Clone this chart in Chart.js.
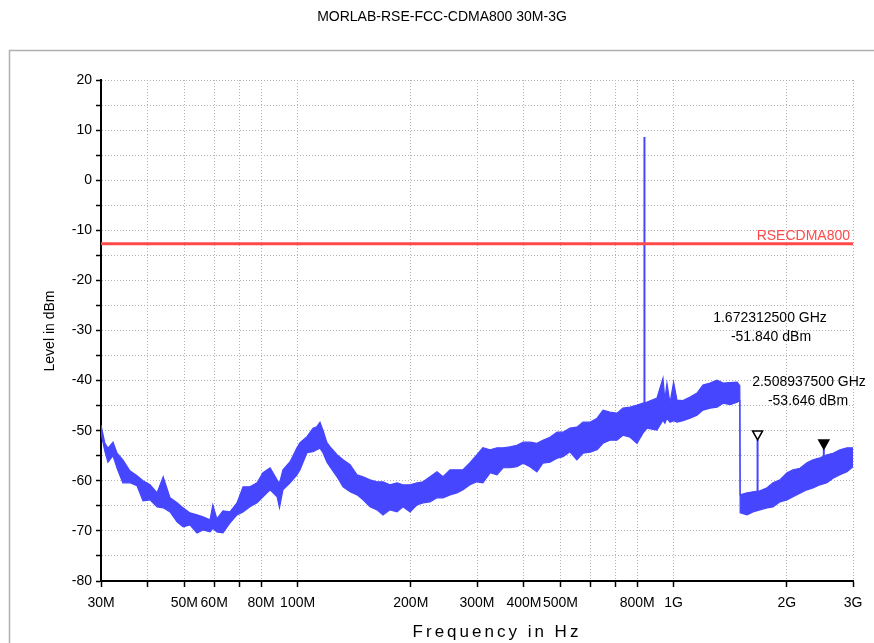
<!DOCTYPE html>
<html>
<head>
<meta charset="utf-8">
<script src="https://cdn.jsdelivr.net/npm/chart.js@4.4.0/dist/chart.umd.min.js"></script>
<style>
  body { margin: 0; background: #fff; }
</style>
</head>
<body>
<canvas id="spectrum" width="874" height="643"></canvas>
<script>
// frequencies in MHz, levels in dBm
var freqMHz = [30.0, 30.7, 31.3, 32.3, 33.1, 34.3, 35.8, 37.4, 38.8, 40.5, 42.3, 43.9, 45.8, 47.8, 49.6,
  51.7, 54.0, 56.0, 58.5, 59.5, 61.0, 63.3, 66.1, 69.0, 71.6, 74.7, 78.0, 80.9, 84.5, 88.2, 89.5,
  91.4, 95.5, 99.6, 101.5, 105.9, 109.9, 112.5, 114.7, 116.8, 119.7, 121.9, 127.3, 132.1, 137.9,
  143.9, 149.3, 155.8, 162.6, 168.7, 176.1, 183.8, 190.7, 199.1, 207.8, 215.6, 225.0, 234.8, 243.6,
  254.3, 265.4, 275.4, 287.4, 300, 311, 325, 339, 352, 367, 383, 398, 415, 433, 449, 469, 490, 508,
  530, 553, 574, 599, 626, 649, 677, 707, 733, 766, 799, 829, 850, 903, 937, 948, 960, 978, 1000,
  1021, 1059, 1106, 1154, 1197, 1250, 1305, 1354, 1413, 1475, 1500, 1503, 1568, 1626, 1697, 1772,
  1838, 1919, 2003, 2078, 2168, 2263, 2348, 2451, 2558, 2654, 2770, 2892, 3000];

var peakLevel = [-48.9, -52.4, -53.5, -52.3, -54.5, -55.8, -58.0, -59.0, -60.0, -60.8, -62.4, -59.2, -63.4, -64.4, -65.4,
  -66.4, -66.8, -67.2, -67.8, -64.8, -67.6, -66.0, -66.2, -64.4, -61.2, -61.2, -60.4, -58.4, -57.4, -59.8, -60.5,
  -57.8, -56.2, -53.4, -52.4, -51.2, -49.5, -49.2, -48.3, -49.9, -52.4, -53.2, -54.8, -55.8, -56.8,
  -58.8, -59.2, -59.8, -60.2, -60.2, -60.8, -60.4, -60.8, -60.8, -60.4, -60.2, -59.2, -58.2, -59.2,
  -57.8, -57.8, -57.8, -56.4, -54.8, -53.4, -53.8, -53.4, -53.4, -53.2, -52.9, -52.3, -52.3, -52.5, -51.9, -51.3, -50.3, -50.3,
  -49.5, -49.3, -48.3, -48.3, -47.5, -45.9, -46.3, -46.5, -45.5, -45.3, -44.9, -44.5, -44.3, -43.5, -39.5, -43.9, -40.5, -44.5, -40.3,
  -43.9, -44.0, -43.3, -42.5, -40.9, -40.5, -39.9, -40.5, -40.4, -40.3, -41.0, -62.8, -62.4, -62.2, -62.0, -61.4,
  -60.4, -59.8, -58.4, -57.8, -57.5, -56.4, -55.8, -55.4, -54.8, -54.5, -53.8, -53.4, -53.4];

var floorLevel = [-50.5, -54.0, -56.3, -55.0, -57.5, -60.4, -60.4, -61.0, -64.0, -63.8, -65.2, -65.4, -66.2, -68.2, -69.2,
  -68.8, -70.4, -69.8, -70.2, -69.5, -70.2, -70.4, -68.4, -66.8, -66.2, -65.2, -64.4, -63.2, -61.8, -63.2, -65.4,
  -61.8, -60.4, -58.8, -57.8, -54.4, -54.2, -53.8, -53.5, -54.4, -56.3, -57.2, -59.2, -61.2, -62.2,
  -62.8, -63.8, -65.2, -65.8, -66.8, -65.8, -66.2, -65.2, -66.2, -64.8, -64.4, -64.2, -63.4, -63.4,
  -62.8, -62.4, -61.8, -60.8, -60.2, -60.4, -58.4, -58.8, -57.4, -57.4, -57.2, -56.5, -57.2, -58.2, -56.5, -56.3, -55.5, -55.2,
  -54.2, -55.8, -54.5, -54.3, -53.8, -52.5, -51.9, -51.9, -50.9, -51.3, -52.5, -50.5, -49.5, -49.9, -47.9, -48.5, -47.5, -48.3, -48.0,
  -48.3, -48.0, -47.5, -46.9, -45.9, -45.5, -45.3, -44.5, -44.8, -44.3, -44.0, -66.4, -66.8, -66.2, -65.8, -65.4,
  -65.2, -64.2, -63.8, -63.2, -62.5, -61.8, -61.4, -60.8, -60.4, -59.5, -58.8, -58.2, -57.2];

var carrierFreq = 836.5;
var carrierBase = -46;
var carrierLevel = 8.6;

var limitName = 'RSECDMA800';
var limitLevel = -12.7;

var markerFreq = [1672.3125, 2508.9375];
var markerBase = [-63.5, -57.5];
var markerLevel = [-51.84, -53.646];

var xTickValues = [30, 40, 50, 60, 70, 80, 100, 200, 300, 400, 500, 600, 700, 800, 1000, 2000, 3000];
var xTickLabels = ['30M', '', '50M', '60M', '', '80M', '100M', '200M', '300M', '400M', '500M', '', '', '800M', '1G', '2G', '3G'];

var traceColor = '#4646ff';
var limitColor = '#ff4a4a';
var fontFamily = '"Liberation Sans", Arial, sans-serif';

function points(xs, ys) {
  return xs.map(function(x, i) { return { x: x, y: ys[i] }; });
}

var decorations = {
  id: 'decorations',
  beforeDraw: function(chart) {
    var ctx = chart.ctx;
    ctx.save();
    ctx.fillStyle = '#fff';
    ctx.fillRect(0, 0, chart.width, chart.height);
    ctx.strokeStyle = '#b0b0b0';
    ctx.lineWidth = 1.5;
    ctx.strokeRect(9.5, 50.5, 900, 700);
    ctx.restore();
  },
  afterDatasetsDraw: function(chart) {
    var ctx = chart.ctx;
    var xs = chart.scales.x, ys = chart.scales.y;
    ctx.save();
    markerFreq.forEach(function(f, i) {
      var px = xs.getPixelForValue(f);
      var py = ys.getPixelForValue(markerLevel[i]);
      ctx.beginPath();
      ctx.moveTo(px, py);
      ctx.lineTo(px - 5, py - 9);
      ctx.lineTo(px + 5, py - 9);
      ctx.closePath();
      ctx.lineWidth = 1.5;
      ctx.strokeStyle = '#000';
      if (i === 0) {
        ctx.fillStyle = '#fff';
      } else {
        ctx.fillStyle = '#000';
      }
      ctx.fill();
      ctx.stroke();
    });
    ctx.restore();
  },
  afterDraw: function(chart) {
    var ctx = chart.ctx;
    ctx.save();
    ctx.fillStyle = '#000';
    ctx.textBaseline = 'middle';
    ctx.textAlign = 'center';

    ctx.font = '14px ' + fontFamily;
    ctx.fillText('MORLAB-RSE-FCC-CDMA800 30M-3G', 442, 17);

    // marker readouts
    ctx.fillText((markerFreq[0] / 1000).toFixed(9) + ' GHz', 770, 318);
    ctx.fillText(markerLevel[0].toFixed(3) + ' dBm', 771, 337);
    ctx.fillText((markerFreq[1] / 1000).toFixed(9) + ' GHz', 809, 382);
    ctx.fillText(markerLevel[1].toFixed(3) + ' dBm', 808, 401);

    // limit line name
    ctx.fillStyle = limitColor;
    ctx.textAlign = 'right';
    ctx.fillText(limitName, 850, 236);

    // axis titles
    ctx.fillStyle = '#000';
    ctx.textAlign = 'center';
    ctx.save();
    ctx.translate(50, 331);
    ctx.rotate(-Math.PI / 2);
    ctx.font = '14px ' + fontFamily;
    ctx.fillText('Level in dBm', 0, 0);
    ctx.restore();

    ctx.font = '17px ' + fontFamily;
    ctx.letterSpacing = '3px';
    ctx.fillText('Frequency in Hz', 497, 632);
    ctx.restore();
  }
};

var chart = new Chart(document.getElementById('spectrum').getContext('2d'), {
  type: 'line',
  data: {
    datasets: [{
      label: limitName,
      data: points([30, 3000], [limitLevel, limitLevel]),
      borderColor: limitColor,
      borderWidth: 3,
      pointRadius: 0,
      fill: false
    }, {
      label: 'peak',
      data: points(freqMHz, peakLevel),
      borderColor: traceColor,
      backgroundColor: traceColor,
      borderWidth: 1.2,
      pointRadius: 0,
      tension: 0,
      fill: '+1'
    }, {
      label: 'floor',
      data: points(freqMHz, floorLevel),
      borderColor: traceColor,
      borderWidth: 1.2,
      pointRadius: 0,
      tension: 0,
      fill: false
    }, {
      label: 'carrier',
      data: points([carrierFreq, carrierFreq], [carrierBase, carrierLevel]),
      borderColor: traceColor,
      borderWidth: 2,
      pointRadius: 0,
      fill: false
    }, {
      label: 'marker1',
      data: points([markerFreq[0], markerFreq[0]], [markerBase[0], markerLevel[0]]),
      borderColor: traceColor,
      borderWidth: 2,
      pointRadius: 0,
      fill: false
    }, {
      label: 'marker2',
      data: points([markerFreq[1], markerFreq[1]], [markerBase[1], markerLevel[1]]),
      borderColor: traceColor,
      borderWidth: 2,
      pointRadius: 0,
      fill: false
    }]
  },
  options: {
    responsive: false,
    animation: false,
    devicePixelRatio: 1,
    layout: { padding: { top: 80, right: 21, bottom: 0, left: 0 } },
    plugins: {
      legend: { display: false },
      title: { display: false },
      tooltip: { enabled: false }
    },
    scales: {
      x: {
        type: 'logarithmic',
        min: 30,
        max: 3000,
        afterBuildTicks: function(scale) {
          scale.ticks = xTickValues.map(function(v) { return { value: v }; });
        },
        afterFit: function(scale) { scale.height = 62; },
        ticks: {
          autoSkip: false,
          maxRotation: 0,
          padding: 8,
          color: '#000',
          font: { family: fontFamily, size: 14 },
          callback: function(value) {
            var i = xTickValues.indexOf(value);
            return i >= 0 ? xTickLabels[i] : '';
          }
        },
        grid: {
          color: '#b4b4b4',
          tickColor: '#000',
          tickLength: 6,
          tickWidth: 1.5,
          tickBorderDash: []
        },
        border: { color: '#000', width: 2, dash: [1, 2] }
      },
      y: {
        min: -80,
        max: 20,
        afterFit: function(scale) { scale.width = 101; },
        ticks: {
          stepSize: 5,
          padding: 4,
          color: '#000',
          font: { family: fontFamily, size: 14 },
          callback: function(value) {
            return value % 10 === 0 ? String(value) : '';
          }
        },
        grid: {
          color: '#b4b4b4',
          tickColor: '#000',
          tickLength: 5,
          tickWidth: 1.5,
          tickBorderDash: []
        },
        border: { color: '#000', width: 2, dash: [1, 2] }
      }
    }
  },
  plugins: [decorations]
});
</script>
</body>
</html>
